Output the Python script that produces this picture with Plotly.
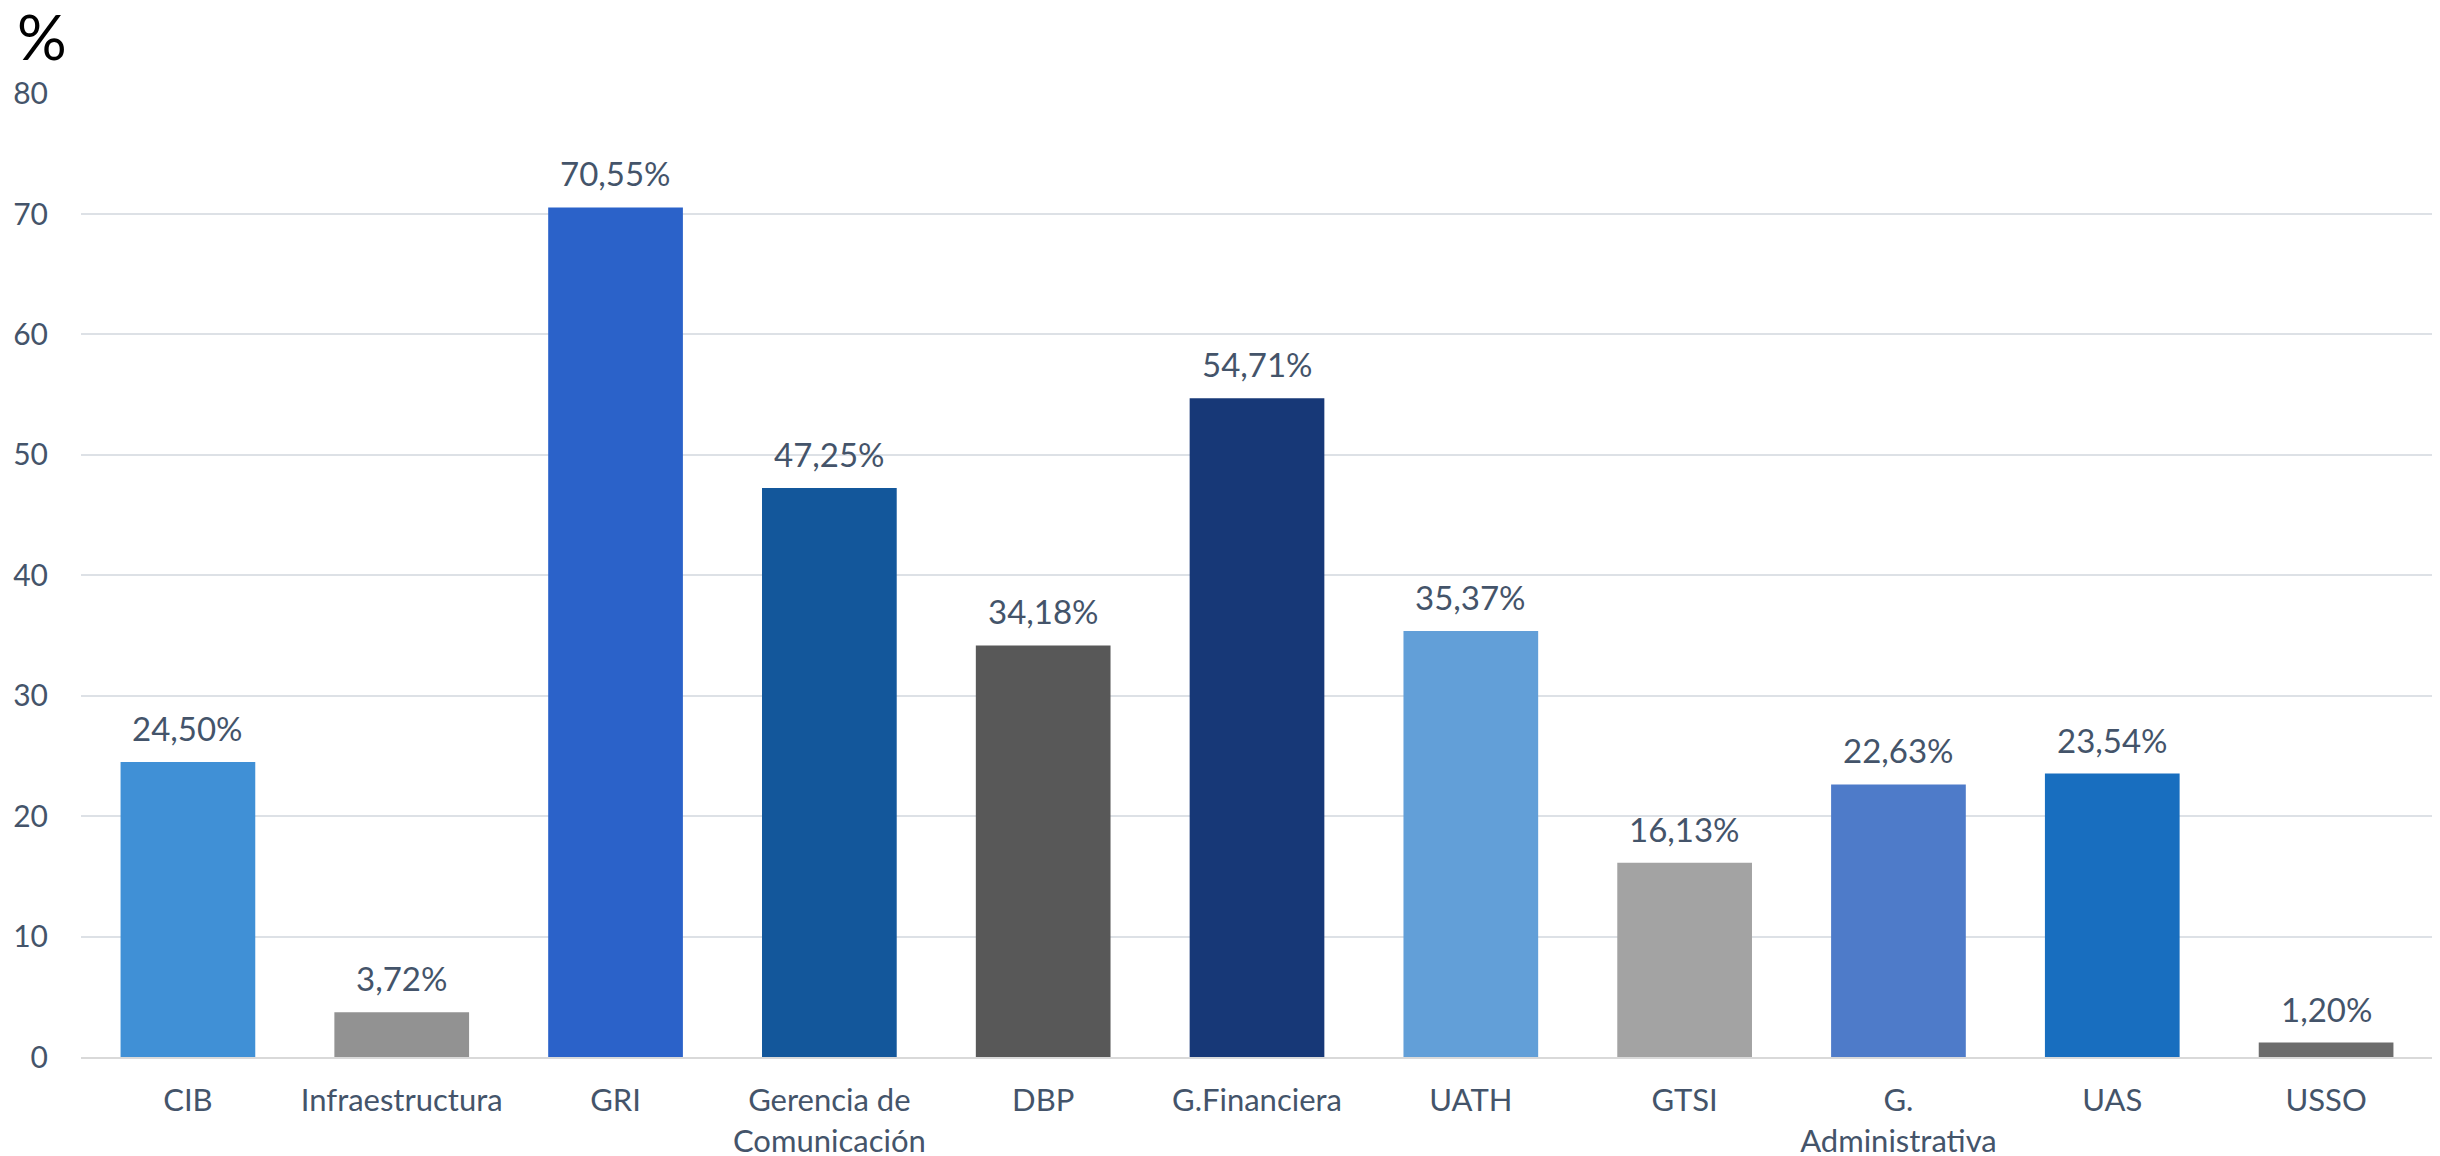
import plotly.graph_objects as go

categories = ["CIB", "Infraestructura", "GRI", "Gerencia de Comunicación", "DBP",
              "G.Financiera", "UATH", "GTSI", "G. Administrativa", "UAS", "USSO"]
tick_labels = ["CIB", "Infraestructura", "GRI", "Gerencia de<br>Comunicación", "DBP",
               "G.Financiera", "UATH", "GTSI", "G.<br>Administrativa", "UAS", "USSO"]
values = [24.50, 3.72, 70.55, 47.25, 34.18, 54.71, 35.37, 16.13, 22.63, 23.54, 1.20]
bar_colors = ["#4090D6", "#929292", "#2B62C9", "#13579B", "#585858", "#173877",
              "#629FD8", "#A3A3A3", "#4E7BC9", "#186EBF", "#6C6C6C"]
y_ticks = [0, 10, 20, 30, 40, 50, 60, 70, 80]

labels = [f"{v:.2f}".replace(".", ",") + "%" for v in values]

FONT = "Lato"
TXT = "#44546A"

fig = go.Figure()
fig.add_trace(go.Bar(
    x=categories, y=values,
    marker=dict(color=bar_colors, line=dict(width=0)),
    width=0.63,
))

annotations = [dict(
    x=c, y=v, text=t, xref="x", yref="y", showarrow=False,
    xanchor="center", yanchor="bottom", yshift=12,
    font=dict(family=FONT, size=33, color=TXT),
) for c, v, t in zip(categories, values, labels)]

annotations.append(dict(
    text="%", xref="paper", yref="paper", x=0, y=1,
    xanchor="center", yanchor="middle", borderpad=0,
    xshift=-39, yshift=57, showarrow=False,
    font=dict(family=FONT, size=62, color="black"),
))

fig.update_layout(
    width=2440, height=1156,
    margin=dict(l=73, r=15, t=85, b=107),
    plot_bgcolor="white", paper_bgcolor="white",
    showlegend=False,
    font=dict(family=FONT, size=30, color=TXT),
    xaxis=dict(
        tickmode="array", tickvals=categories, ticktext=tick_labels,
        showgrid=False, showline=True, linecolor="#D9D9D9", linewidth=2,
        ticks="outside", ticklen=15, tickcolor="rgba(0,0,0,0)",
        tickfont=dict(family=FONT, size=31, color=TXT),
        automargin=False,
    ),
    yaxis=dict(
        range=[0, 80.05], tickmode="array", tickvals=y_ticks,
        ticktext=[str(t) for t in y_ticks],
        showgrid=True, gridcolor="#DDE1E6", gridwidth=2,
        zeroline=False, showline=False,
        ticks="outside", ticklen=26, tickcolor="rgba(0,0,0,0)",
        tickfont=dict(family=FONT, size=30, color=TXT),
        automargin=False,
    ),
    annotations=annotations,
)

fig.write_html("out.html")
